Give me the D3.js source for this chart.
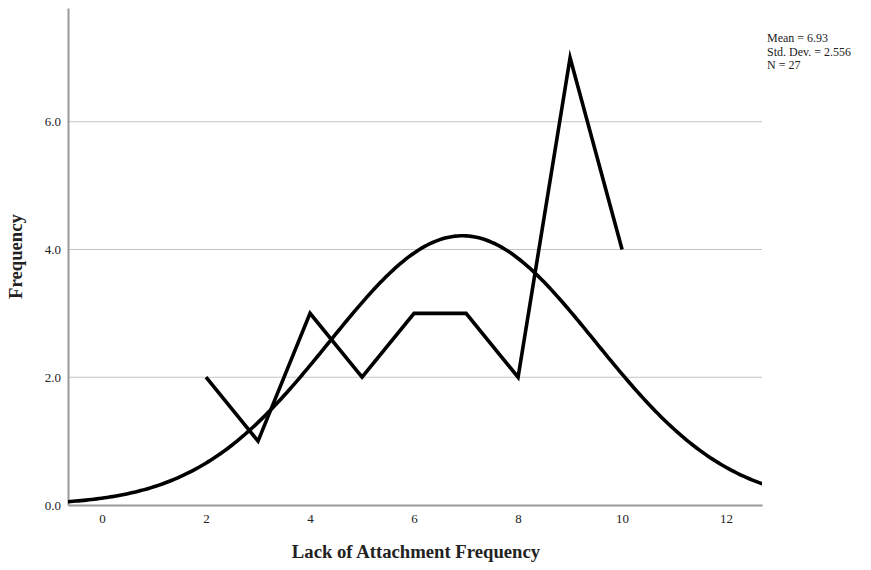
<!DOCTYPE html>
<html>
<head>
<meta charset="utf-8">
<script src="https://cdn.jsdelivr.net/npm/d3@7"></script>
<style>
  html, body { margin: 0; padding: 0; background: #fff; }
  svg { display: block; }
  text { font-family: "Liberation Serif", "Times New Roman", serif; fill: #222; }
</style>
</head>
<body>
<svg id="chart" width="871" height="570"></svg>
<script>
// Frequency polygon of scores with a fitted normal curve
const scores = [2, 3, 4, 5, 6, 7, 8, 9, 10];
const counts = [2, 1, 3, 2, 3, 3, 2, 7, 4];
const xTicks = [0, 2, 4, 6, 8, 10, 12];
const yTicks = [0, 2, 4, 6];
const statLines = ["Mean = 6.93", "Std. Dev. = 2.556", "N = 27"];
const mean = 6.93, sd = 2.556, n = 27;

const svg = d3.select("#chart");
const plotLeft = 68, plotRight = 762, plotTop = 8, plotBottom = 505;

const x = d3.scaleLinear().domain([-0.654, 12.69]).range([plotLeft, plotRight]);
const y = d3.scaleLinear().domain([0, 7.78]).range([plotBottom, plotTop]);

// horizontal gridlines
svg.append("g").selectAll("line")
  .data(yTicks.filter(d => d > 0))
  .join("line")
  .attr("x1", plotLeft).attr("x2", plotRight)
  .attr("y1", d => y(d)).attr("y2", d => y(d))
  .attr("stroke", "#c4c4c4").attr("stroke-width", 1);

// axes
const xAxis = svg.append("g").attr("transform", `translate(0,${plotBottom})`)
  .call(d3.axisBottom(x).tickValues(xTicks).tickSize(0).tickPadding(9).tickFormat(d3.format("d")));
const yAxis = svg.append("g").attr("transform", `translate(${plotLeft},0)`)
  .call(d3.axisLeft(y).tickValues(yTicks).tickSize(0).tickPadding(7).tickFormat(d3.format(".1f")));
[xAxis, yAxis].forEach(a => {
  a.select(".domain").attr("stroke", "#999").attr("stroke-width", 2);
  a.selectAll("text").attr("font-family", "Liberation Serif, serif").attr("font-size", 13).attr("fill", "#222");
});

// clip for curve
svg.append("clipPath").attr("id", "plotClip")
  .append("rect").attr("x", plotLeft).attr("y", plotTop)
  .attr("width", plotRight - plotLeft).attr("height", plotBottom - plotTop);

// fitted normal curve (count scale, bin width 1)
const normal = v => n / (sd * Math.sqrt(2 * Math.PI)) * Math.exp(-0.5 * ((v - mean) / sd) ** 2);
const curvePts = d3.range(x.domain()[0], x.domain()[1] + 0.01, 0.05).map(v => [v, normal(v)]);
svg.append("path")
  .datum(curvePts)
  .attr("clip-path", "url(#plotClip)")
  .attr("fill", "none").attr("stroke", "#000").attr("stroke-width", 3.6)
  .attr("d", d3.line().x(d => x(d[0])).y(d => y(d[1])));

// frequency polygon
svg.append("path")
  .datum(scores.map((s, i) => [s, counts[i]]))
  .attr("fill", "none").attr("stroke", "#000").attr("stroke-width", 3.6)
  .attr("stroke-miterlimit", 10)
  .attr("d", d3.line().x(d => x(d[0])).y(d => y(d[1])));

// axis titles
svg.append("text")
  .attr("x", (plotLeft + plotRight) / 2 + 1).attr("y", 558)
  .attr("text-anchor", "middle").attr("font-size", 18.7).attr("font-weight", "bold")
  .attr("fill", "#111")
  .text("Lack of Attachment Frequency");
svg.append("text")
  .attr("transform", `translate(21.5,${(plotTop + plotBottom) / 2}) rotate(-90)`)
  .attr("text-anchor", "middle").attr("font-size", 18.7).attr("font-weight", "bold")
  .attr("fill", "#111")
  .text("Frequency");

// summary statistics
svg.append("g").selectAll("text")
  .data(statLines)
  .join("text")
  .attr("x", 767).attr("y", (d, i) => 42 + i * 13.5)
  .attr("font-size", 12)
  .text(d => d);
</script>
</body>
</html>
